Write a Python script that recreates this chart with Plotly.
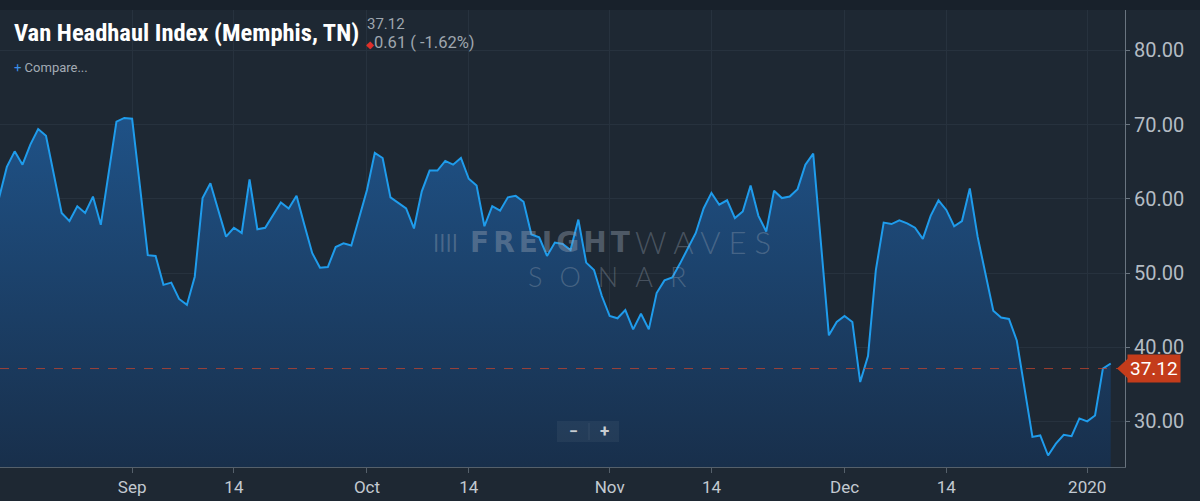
import pandas as pd
import plotly.graph_objects as go

# ---------------- data ----------------
start_date = "2019-08-15"
values = [
    60.1, 64.3, 66.4, 64.6, 67.3, 69.4, 68.5, 63.2, 58.1, 57.0,
    59.0, 58.1, 60.3, 56.5, 63.5, 70.4, 70.9, 70.8, 61.7, 52.4,
    52.3, 48.4, 48.7, 46.5, 45.7, 49.5, 60.1, 62.1, 58.5, 54.9,
    56.1, 55.4, 62.6, 55.9, 56.1, 57.8, 59.5, 58.7, 60.4, 56.5,
    52.7, 50.7, 50.8, 53.5, 54.0, 53.7, 57.4, 61.2, 66.2, 65.5,
    60.2, 59.5, 58.7, 56.0, 61.0, 63.8, 63.8, 65.1, 64.6, 65.5,
    62.7, 61.8, 56.3, 59.0, 58.4, 60.2, 60.4, 59.6, 55.2, 54.8,
    52.3, 54.1, 53.9, 53.1, 57.2, 51.4, 50.4, 46.9, 44.2, 43.9,
    45.0, 42.4, 44.5, 42.4, 47.3, 49.0, 49.4, 51.3, 53.3, 55.4,
    58.7, 60.8, 59.2, 59.8, 57.4, 58.3, 61.8, 57.7, 55.6, 61.1,
    60.1, 60.3, 61.3, 64.6, 66.1, 53.9, 41.6, 43.4, 44.2, 43.4,
    35.3, 38.8, 50.4, 56.8, 56.6, 57.1, 56.7, 56.1, 54.6, 57.7,
    59.8, 58.5, 56.3, 57.0, 61.4, 54.9, 50.0, 44.9, 44.0, 43.8,
    40.9, 34.4, 27.9, 28.1, 25.4, 27.0, 28.2, 28.0, 30.4, 30.0,
    30.8, 37.1, 37.8,
]
dates = pd.date_range(start_date, periods=len(values), freq="D")

last_value = 37.12
change_text = "0.61 ( -1.62%)"
title_text = "Van Headhaul Index (Memphis, TN)"

x_tick_vals = ["2019-09-01", "2019-09-14", "2019-10-01", "2019-10-14",
               "2019-11-01", "2019-11-14", "2019-12-01", "2019-12-14",
               "2020-01-01"]
x_tick_text = ["Sep", "14", "Oct", "14", "Nov", "14", "Dec", "14", "2020"]
y_tick_vals = [30, 40, 50, 60, 70, 80]

# ---------------- layout helpers ----------------
W, H = 1200, 501
PL, PR, PT, PB = 0, 1125, 10, 467   # plot area in pixels


def xp(px):
    return (px - PL) / (PR - PL)


def yp(py):
    return (PB - py) / (PB - PT)


BG = "#1e2833"
TXT = "#b4bcc4"
WM = "rgba(150,162,178,0.42)"
WM2 = "rgba(150,162,178,0.36)"

fig = go.Figure()
fig.add_trace(go.Scatter(
    x=dates, y=values, mode="lines",
    line=dict(color="#1f9cec", width=2),
    fill="tozeroy",
    fillgradient=dict(type="vertical",
                      colorscale=[[0, "#182f4b"], [1, "#1f5287"]],
                      start=23.8, stop=71),
    hoverinfo="skip",
))

shapes = [
    # top dark band
    dict(type="rect", xref="paper", yref="paper", x0=-0.01, x1=1.1,
         y0=1, y1=yp(0) + 0.01, fillcolor="#18212b", line_width=0, layer="below"),
    # last value dashed line
    dict(type="line", xref="paper", yref="y", x0=0, x1=1, y0=last_value, y1=last_value,
         line=dict(color="rgba(200,70,45,0.75)", width=1, dash="dash")),
    # last value marker arrow
    dict(type="path", xref="paper", yref="y",
         path=f"M {xp(1117)},{last_value} L {xp(1128)},{last_value + 1.35} "
              f"L {xp(1128)},{last_value - 1.35} Z",
         fillcolor="#c43c1b", line_width=0),
    # zoom buttons box
    dict(type="rect", xref="paper", yref="paper", x0=xp(557), x1=xp(619),
         y0=yp(442), y1=yp(421), fillcolor="rgba(255,255,255,0.05)",
         line_width=0),
    dict(type="line", xref="paper", yref="paper", x0=xp(589), x1=xp(589),
         y0=yp(440), y1=yp(423), line=dict(color="rgba(255,255,255,0.08)", width=1)),
]

annotations = [
    dict(text=f"<b>{title_text}</b>", xref="paper", yref="paper",
         x=xp(12), y=yp(32), xanchor="left", yanchor="middle", showarrow=False,
         font=dict(family="Liberation Sans Narrow, Roboto Condensed, Roboto",
                   size=24.5, color="#ffffff")),
    dict(text=f"{last_value:.2f}", xref="paper", yref="paper",
         x=xp(366), y=yp(23.5), xanchor="left", yanchor="middle", showarrow=False,
         borderpad=0,
         font=dict(family="Roboto", size=15, color="#9ea6ae")),
    dict(text=f"<span style='color:#e0302a;font-size:10px'>◆</span>{change_text}",
         xref="paper", yref="paper", borderpad=0,
         x=xp(365), y=yp(42.5), xanchor="left", yanchor="middle", showarrow=False,
         font=dict(family="Roboto", size=16.5, color="#9ea6ae")),
    dict(text="<span style='color:#3b8fe8'>+</span> Compare...",
         xref="paper", yref="paper",
         x=xp(12), y=yp(67), xanchor="left", yanchor="middle", showarrow=False,
         font=dict(family="Roboto", size=13, color="#a3abb3")),
    # watermark
    dict(text="<span style='letter-spacing:4px'><b>FREIGHT</b></span>",
         xref="paper", yref="paper",
         x=xp(468), y=yp(242), xanchor="left", yanchor="middle", showarrow=False,
         font=dict(family="DejaVu Sans", size=28, color=WM)),
    dict(text="<span style='letter-spacing:8px'>WAVES</span>", xref="paper", yref="paper",
         x=xp(633), y=yp(242), xanchor="left", yanchor="middle", showarrow=False,
         font=dict(family="Lato", weight=300, size=31, color=WM2)),
    dict(text="<span style='letter-spacing:17px'>SONAR</span>", xref="paper", yref="paper",
         x=xp(526), y=yp(276), xanchor="left", yanchor="middle", showarrow=False,
         font=dict(family="Lato", weight=300, size=27, color=WM2)),
    dict(text="<b>||||</b>", xref="paper", yref="paper",
         x=xp(431), y=yp(242), xanchor="left", yanchor="middle", showarrow=False,
         font=dict(family="DejaVu Sans", size=17, color="rgba(150,162,178,0.4)")),
    # zoom buttons
    dict(text="<b>−</b>", xref="paper", yref="paper", x=xp(573), y=yp(431),
         xanchor="center", yanchor="middle", showarrow=False,
         font=dict(family="Roboto", size=16, color="#c7cdd3")),
    dict(text="<b>+</b>", xref="paper", yref="paper", x=xp(604), y=yp(431),
         xanchor="center", yanchor="middle", showarrow=False,
         font=dict(family="Roboto", size=17, color="#c7cdd3")),
    # last value label
    dict(text=f"{last_value:.2f}", xref="paper", yref="y", x=xp(1127), y=last_value,
         xanchor="left", yanchor="middle", showarrow=False, bgcolor="#c43c1b",
         borderpad=2, font=dict(family="Roboto", size=19, color="#ffffff")),
]

fig.update_layout(
    width=W, height=H,
    margin=dict(l=PL, r=W - PR, t=PT, b=H - PB),
    paper_bgcolor=BG, plot_bgcolor=BG,
    showlegend=False,
    shapes=shapes, annotations=annotations,
    xaxis=dict(
        type="date", range=["2019-08-15 03:00", "2020-01-05 19:48"],
        tickvals=x_tick_vals, ticktext=x_tick_text,
        showgrid=True, gridcolor="#27323e", gridwidth=1,
        showline=True, linecolor="#55606b", linewidth=1,
        ticks="outside", ticklen=5, tickcolor="#55606b",
        tickfont=dict(family="Roboto", size=17, color="#c3cad1"),
        zeroline=False, fixedrange=True,
    ),
    yaxis=dict(
        side="right", range=[23.85, 85.45],
        tickvals=y_tick_vals, tickformat=".2f",
        showgrid=True, gridcolor="#27323e", gridwidth=1,
        showline=True, linecolor="#6a7580", linewidth=1,
        ticks="outside", ticklen=4, tickcolor="#6a7580",
        tickfont=dict(family="Roboto", size=20, color=TXT),
        zeroline=False, fixedrange=True,
    ),
)

fig.write_html(
    "out.html",
    config={"displayModeBar": False},
    post_script="document.body.style.margin='0';document.body.style.padding='0';"
                "document.body.style.background='#1e2833';"
                "document.documentElement.style.overflow='hidden';",
)
